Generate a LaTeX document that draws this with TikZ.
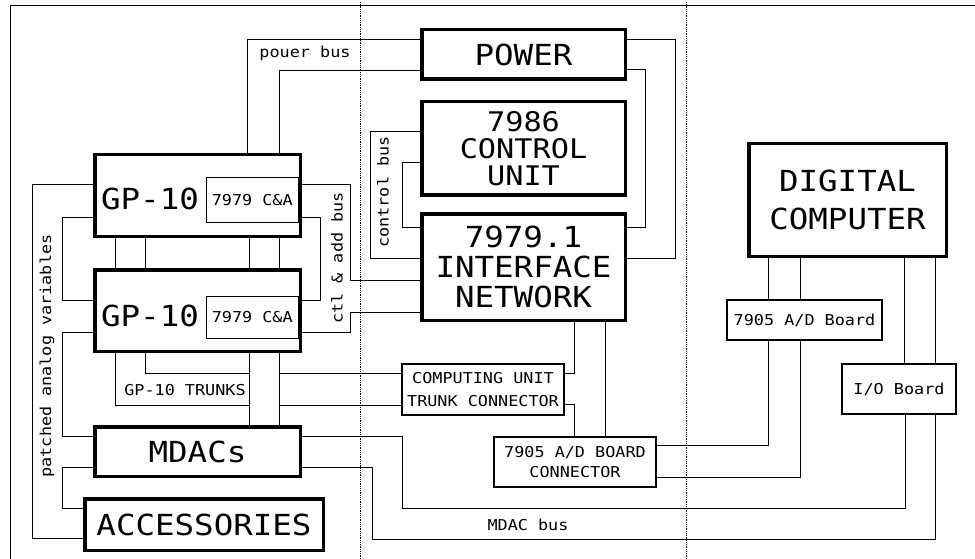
\documentclass[tikz,border=0pt]{standalone}
\usepackage{fontspec}
\newfontfamily\plotfont[FakeStretch=1.12]{DejaVu Sans Mono}
\newcommand{\plotbig}{\plotfont\fontsize{29}{30}\selectfont}
\newcommand{\plotsmall}{\plotfont\fontsize{15}{21}\selectfont}
\usepackage{tikz}

\begin{document}
\begin{tikzpicture}[x=1pt, y=-1pt,
    unit/.style={rectangle, draw, line width=3.5pt, inner sep=0pt, align=center, font=\plotbig},
    board/.style={rectangle, draw, line width=1.8pt, inner sep=0pt, align=center, font=\plotsmall},
    cabox/.style={rectangle, draw, line width=1pt, inner sep=0pt, font=\plotsmall},
    wire/.style={line width=1pt},
    zone/.style={densely dotted, line width=0.8pt},
    lbl/.style={inner sep=1pt, font=\plotsmall}]

    \useasboundingbox (0,0) rectangle (975,559);

    % Frame and zones
    \draw[wire] (10,559) |- (975,6);
    \draw[zone] (360,2) -- (360,559);
    \draw[zone] (686,2) -- (686,559);

    % Analog side
    \node[cabox, minimum width=92.5pt, minimum height=44pt] (caA) at (252.25,200) {7979 C\&A};
    \node[unit, minimum width=205.5pt, minimum height=81.5pt] (gpA) at (197.5,195.5) {};
    \node[font=\plotbig] (gpAt) at (150,199) {GP-10};
    \node[cabox, minimum width=92.5pt, minimum height=42pt] (caB) at (252.25,317) {7979 C\&A};
    \node[unit, minimum width=205.5pt, minimum height=81.5pt] (gpB) at (197.5,310.5) {};
    \node[font=\plotbig] (gpBt) at (150,316) {GP-10};
    \node[unit, minimum width=205.5pt, minimum height=49.5pt] (mdac) at (197.5,451.5) {MDACs};
    \node[unit, minimum width=238.5pt, minimum height=51.5pt] (acc) at (204,524.5) {ACCESSORIES};

    % Hybrid interface
    \node[unit, minimum width=203.5pt, minimum height=49.5pt] (power) at (523.5,54.5) {POWER};
    \node[unit, minimum width=203.5pt, minimum height=93.5pt, font={\plotfont\fontsize{27}{27}\selectfont}]
        (cu7986) at (523.5,148.5) {7986\\CONTROL\\UNIT};
    \node[unit, minimum width=203.5pt, minimum height=106.5pt, font={\plotfont\fontsize{29}{30}\selectfont}]
        (ifnet) at (523.5,267) {7979.1\\INTERFACE\\NETWORK};
    \node[board, minimum width=162pt, minimum height=51pt, font={\plotfont\fontsize{15}{23}\selectfont}]
        (cutc) at (483,389.5) {COMPUTING UNIT\\TRUNK CONNECTOR};
    \node[board, minimum width=162pt, minimum height=50pt, font={\plotfont\fontsize{15}{20}\selectfont}]
        (adc) at (575,462) {7905 A/D BOARD\\CONNECTOR};

    % Digital side
    \node[unit, minimum width=197.5pt, minimum height=112.5pt, font={\plotfont\fontsize{29}{38}\selectfont}]
        (dc) at (847.5,200) {DIGITAL\\COMPUTER};
    \node[board, minimum width=155pt, minimum height=40pt] (adb) at (804.5,320) {7905 A/D Board};
    \node[board, minimum width=114pt, minimum height=50pt] (iob) at (899,389) {I/O Board};

    % Bus labels
    \node[lbl] (pwrbus) at (305,53) {pouer bus};
    \node[lbl, rotate=90] (ctlbus) at (383,192) {control bus};
    \node[lbl, rotate=90] (addbus) at (337,258) {ctl \& add bus};
    \node[lbl, rotate=90] (pav) at (47,356) {patched analog variables};
    \node[lbl] (trunks) at (185,390) {GP-10 TRUNKS};
    \node[lbl] (mdacbus) at (528,525) {MDAC bus};

    % Trunk junctions
    \coordinate (tjA) at (249,373);
    \coordinate (tjB) at (249,405);
    \coordinate (tjC) at (279,373);
    \coordinate (tjD) at (279,405);

    % Power bus
    \draw[wire] (gpA.north -| 247,0) |- (power.west |- 0,40);
    \draw[wire] (gpA.north -| 279,0) |- (power.west |- 0,71);
    \draw[wire] (power.east |- 0,40) -| (675,258) -- (ifnet.east |- 0,258);
    \draw[wire] (power.east |- 0,70) -| (645,227) -- (ifnet.east |- 0,227);

    % Control bus
    \draw[wire] (cu7986.west |- 0,132) -| (370,258) -- (ifnet.west |- 0,258);
    \draw[wire] (cu7986.west |- 0,163) -| (402,227) -- (ifnet.west |- 0,227);

    % ctl & add bus
    \draw[wire] (gpA.east |- 0,185) -| (350,280) -- (ifnet.west |- 0,280);
    \draw[wire] (gpA.east |- 0,217) -| (320,300) -- (gpB.east |- 0,300);
    \draw[wire] (gpB.east |- 0,332) -| (350,312) -- (ifnet.west |- 0,312);

    % GP-10 links
    \foreach \x in {115,145,249,279}
        \draw[wire] (gpA.south -| \x,0) -- (gpB.north -| \x,0);
    \foreach \x in {249,279}
        \draw[wire] (gpB.south -| \x,0) -- (mdac.north -| \x,0);

    % GP-10 trunks
    \draw[wire] (gpB.south -| 145,0) |- (tjA);
    \draw[wire] (gpB.south -| 115,0) |- (tjB);
    \draw[wire] (tjC) -- (cutc.west |- tjC);
    \draw[wire] (tjD) -- (cutc.west |- tjD);

    % Patched analog variables
    \draw[wire] (gpA.west |- 0,185) -| (32,538) -- (acc.west |- 0,538);
    \draw[wire] (gpA.west |- 0,217) -| (62,300) -- (gpB.west |- 0,300);
    \draw[wire] (gpB.west |- 0,332) -| (62,436) -- (mdac.west |- 0,436);
    \draw[wire] (mdac.west |- 0,467) -| (62,508) -- (acc.west |- 0,508);

    % MDAC bus
    \draw[wire] (mdac.east |- 0,436) -| (402,508) -| (iob.south -| 905,0);
    \draw[wire] (mdac.east |- 0,467) -| (372,539) -| (iob.south -| 935,0);

    % Interface to connectors
    \draw[wire] (ifnet.south -| 574,0) |- (cutc.east |- 0,373);
    \draw[wire] (cutc.east |- 0,404) -| (adc.north -| 574,0);
    \draw[wire] (ifnet.south -| 605,0) -- (adc.north -| 605,0);

    % Digital computer
    \foreach \x in {768,800}
        \draw[wire] (dc.south -| \x,0) -- (adb.north -| \x,0);
    \foreach \x in {904,935}
        \draw[wire] (dc.south -| \x,0) -- (iob.north -| \x,0);
    \draw[wire] (adb.south -| 768,0) |- (adc.east |- 0,445);
    \draw[wire] (adb.south -| 800,0) |- (adc.east |- 0,477);
\end{tikzpicture}
\end{document}
